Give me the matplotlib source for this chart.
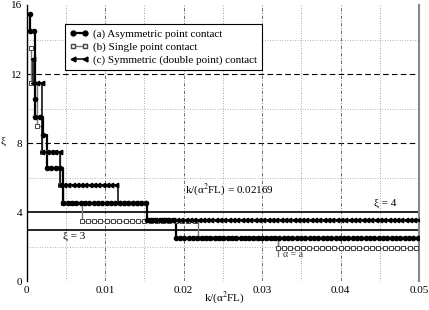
import numpy as np
import matplotlib
matplotlib.use("Agg")
import matplotlib.pyplot as plt
from matplotlib.lines import Line2D

plt.rcParams['font.family'] = ['Liberation Serif', 'DejaVu Serif']
plt.rcParams['mathtext.fontset'] = 'stix'

# ---- data: staircase segments (x_start, x_end, level) ----
seg_a = [(0.0004, 0.0004, 15.5), (0.0004, 0.0011, 14.5), (0.0011, 0.0011, 10.56),
         (0.0011, 0.0021, 9.52), (0.0021, 0.0026, 8.48), (0.0026, 0.0047, 6.56),
         (0.0047, 0.0153, 4.54), (0.0153, 0.0190, 3.58), (0.0190, 0.0500, 2.54)]
seg_b = [(0.0006, 0.0006, 13.5), (0.0006, 0.0013, 11.5), (0.0013, 0.0019, 9.0),
         (0.0019, 0.0042, 7.52), (0.0042, 0.0046, 5.56), (0.0046, 0.0070, 4.54),
         (0.0070, 0.0218, 3.52), (0.0218, 0.0320, 2.54), (0.0320, 0.0500, 1.96)]
seg_c = [(0.0008, 0.0008, 12.9), (0.0008, 0.0020, 11.5), (0.0020, 0.0042, 7.52),
         (0.0042, 0.0117, 5.56), (0.0117, 0.0153, 4.54), (0.0153, 0.0500, 3.58)]
spacing = {'a': 0.00055, 'b': 0.0008, 'c': 0.00055}

labels = ['(a) Asymmetric point contact', '(b) Single point contact',
          '(c) Symmetric (double point) contact']
xi_levels = [4, 3]
xi_labels = ['ξ = 4', 'ξ = 3']
crit_text = r'k/(α$^2$FL) = 0.02169'
note_text = 'α = a'
note_x, note_y0, note_y1 = 0.0320, 2.54, 1.5
xticks = [0, 0.01, 0.02, 0.03, 0.04, 0.05]
xticklabels = ['0', '0.01', '0.02', '0.03', '0.04', '0.05']
yticks = [0, 4, 8, 12, 16]


def polyline(segs):
    xs, ys = [], []
    for x0, x1, lv in segs:
        xs += [x0, x1]
        ys += [lv, lv]
    return xs, ys


def markers(segs, sp):
    mx, my = [], []
    for x0, x1, lv in segs:
        pts = np.arange(x0, x1 + 1e-9, sp)
        if len(pts) == 0:
            pts = np.array([x0])
        mx += list(pts)
        my += [lv] * len(pts)
    return mx, my


fig = plt.figure(figsize=(4.29, 3.10), dpi=100)
ax = fig.add_axes([0.062, 0.092, 0.915, 0.892])
ax.set_xlim(0, 0.05)
ax.set_ylim(0, 16)

# grid
for y in [8, 12]:
    ax.axhline(y, color='black', lw=0.8, ls=(0, (5, 3)), zorder=1)
for y in [2, 6, 10, 14]:
    ax.axhline(y, color='#999999', lw=0.6, ls=(0, (1, 2)), zorder=1)
for x in [0.01, 0.02, 0.03, 0.04]:
    ax.axvline(x, color='#555555', lw=0.6, ls=(0, (4, 2, 1, 2)), zorder=1)
for x in [0.005, 0.015, 0.025, 0.035, 0.045]:
    ax.axvline(x, color='#888888', lw=0.6, ls=(0, (1, 2)), zorder=1)

for y in xi_levels:
    ax.axhline(y, color='black', lw=1.2, zorder=2)

# series
xa, ya = polyline(seg_a)
xb, yb = polyline(seg_b)
xc, yc = polyline(seg_c)
ax.plot(xb, yb, color='#777777', lw=1.0, zorder=3)
ax.plot(xc, yc, color='black', lw=1.1, zorder=3)
ax.plot(xa, ya, color='black', lw=1.6, zorder=3)
mbx, mby = markers(seg_b, spacing['b'])
mcx, mcy = markers(seg_c, spacing['c'])
max_, may = markers(seg_a, spacing['a'])
ax.plot(mbx, mby, ls='none', marker='s', ms=3.2, mfc='white', mec='#444444', mew=0.7, zorder=4)
ax.plot(mcx, mcy, ls='none', marker='<', ms=3.2, color='black', zorder=4)
ax.plot(max_, may, ls='none', marker='o', ms=3.0, color='black', zorder=5)

# legend
handles = [Line2D([], [], color='black', lw=1.6, marker='o', ms=3.5),
           Line2D([], [], color='#777777', lw=1.0, marker='s', ms=3.5, mfc='white', mec='#444444'),
           Line2D([], [], color='black', lw=1.1, marker='<', ms=3.5)]
leg = ax.legend(handles, labels, loc='upper left', bbox_to_anchor=(0.098, 0.93),
                numpoints=2, fontsize=8, handlelength=1.6, labelspacing=0.25,
                borderpad=0.45, handletextpad=0.5, fancybox=False, framealpha=1,
                borderaxespad=0)
leg.get_frame().set_edgecolor('black')
leg.get_frame().set_linewidth(0.8)

# annotations
ax.text(0.0202, 5.3, crit_text, fontsize=8, va='center', ha='left')
ax.text(0.0443, 4.5, xi_labels[0], fontsize=8, va='center', ha='left')
ax.text(0.0046, 2.6, xi_labels[1], fontsize=8, va='center', ha='left')
ax.plot([note_x, note_x], [note_y0, note_y1], color='#777777', lw=0.9, zorder=3)
ax.text(note_x + 0.0006, note_y1 + 0.05, note_text, fontsize=7, va='center', ha='left',
        color='#333333')

# axes styling
ax.set_xticks(xticks)
ax.set_xticklabels(xticklabels)
ax.set_yticks(yticks)
ax.tick_params(length=0, labelsize=8, pad=3)
for s in ['top', 'bottom']:
    ax.spines[s].set_visible(False)
ax.spines['left'].set_color('black')
ax.spines['left'].set_linewidth(1.0)
ax.spines['right'].set_color('#888888')
ax.spines['right'].set_linewidth(1.5)

fig.text(0.5225, 0.012, r'k/(α$^2$FL)', fontsize=8, ha='center', va='bottom')
fig.text(0.008, 0.545, 'ξ', fontsize=8, ha='center', va='center')

fig.savefig('out.png', dpi=100)
